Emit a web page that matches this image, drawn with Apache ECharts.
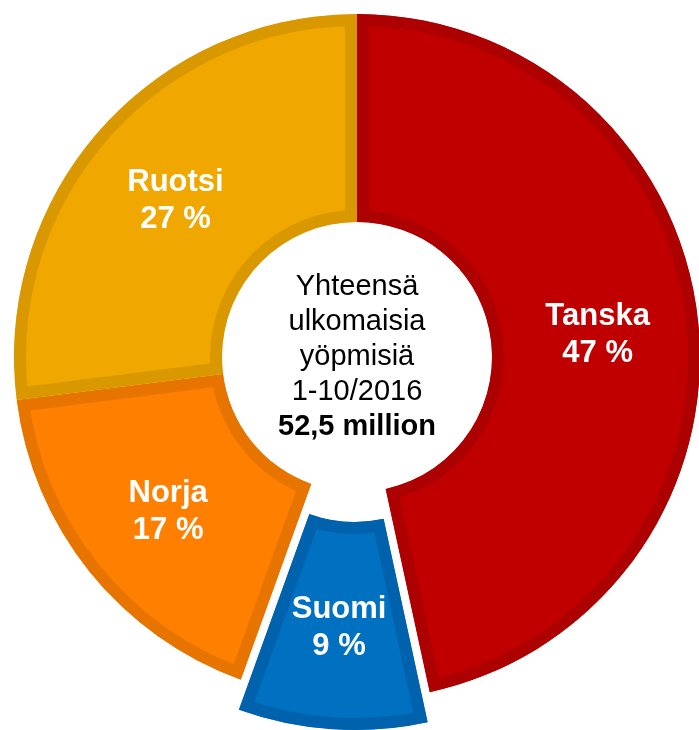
<!DOCTYPE html>
<html><head><meta charset="utf-8">
<script src="https://cdn.jsdelivr.net/npm/echarts@6/dist/echarts.min.js"></script>
<style>html,body{margin:0;padding:0;background:#fff}#c{width:699px;height:730px}</style>
</head><body><div id="c"></div>
<script>
const categories = ['Tanska', 'Suomi', 'Norja', 'Ruotsi'];
const shares = [46.6, 8.9, 17.5, 27.0];
const shareLabels = ['47 %', '9 %', '17 %', '27 %'];
const fillColors = ['#C00000', '#0070C0', '#FF8000', '#F0A800'];
const borderColors = ['#AD0000', '#0062AD', '#E87400', '#D99800'];
const explodedCategory = 'Suomi';
const centerLines = ['Yhteensä', 'ulkomaisia', 'yöpmisiä', '1-10/2016'];
const centerTotal = '52,5 million';

const FONT = '"Liberation Sans", Arial, sans-serif';
const chart = echarts.init(document.getElementById('c'), null, {renderer: 'canvas'});

const data = categories.map((name, i) => ({
  name: name,
  value: shares[i],
  selected: name === explodedCategory,
  itemStyle: {color: fillColors[i], borderColor: borderColors[i], borderWidth: 24}
}));

const option = {
  animation: false,
  backgroundColor: '#ffffff',
  series: [{
    type: 'pie',
    silent: true,
    center: [357, 357],
    radius: [135, 343],
    startAngle: 90,
    clockwise: true,
    avoidLabelOverlap: false,
    selectedMode: 'single',
    selectedOffset: 30,
    label: {
      show: true,
      position: 'inside',
      formatter: p => p.name + '\n' + shareLabels[p.dataIndex],
      color: '#ffffff',
      fontFamily: FONT,
      fontWeight: 'bold',
      fontSize: 31,
      lineHeight: 37,
      align: 'center',
      offset: [0, 4]
    },
    labelLine: {show: false},
    emphasis: {disabled: true},
    data: data
  }],
  graphic: [{
    type: 'text',
    x: 357,
    y: 357,
    silent: true,
    style: {
      text: centerLines.join('\n') + '\n{b|' + centerTotal + '}',
      fontFamily: FONT,
      fontSize: 29,
      lineHeight: 35,
      fill: '#000000',
      align: 'center',
      verticalAlign: 'middle',
      rich: {b: {fontFamily: FONT, fontWeight: 'bold', fontSize: 29, lineHeight: 35, fill: '#000000'}}
    }
  }]
};
chart.setOption(option);

// inner stroke: clip each sector to its own shape so the border lies inside it
try {
  const zr = chart.getZr();
  const list = zr.storage.getDisplayList(true);
  list.forEach(el => {
    if (el.type === 'sector' && el.shape) {
      const clip = new echarts.graphic.Sector({shape: Object.assign({}, el.shape)});
      el.setClipPath(clip);
    }
  });
  zr.refreshImmediately();
} catch (e) {}
</script>
</body></html>
